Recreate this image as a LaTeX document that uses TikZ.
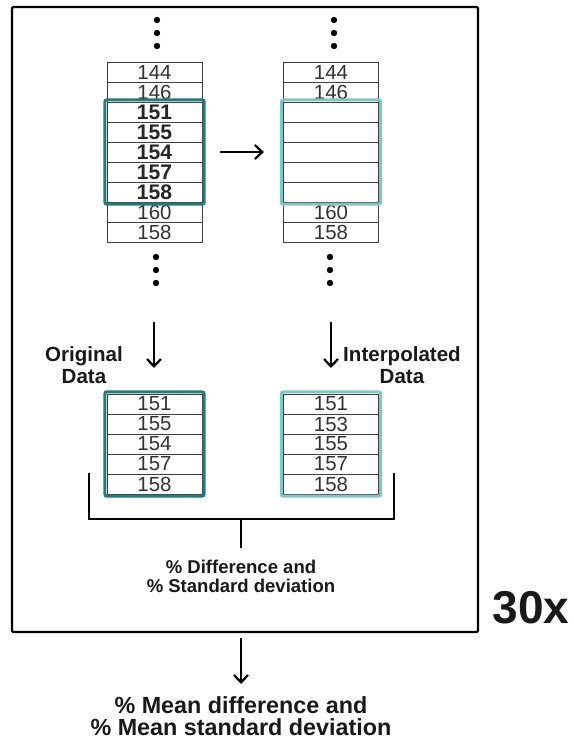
\documentclass[tikz,border=0pt]{standalone}
\usepackage{fontspec}
\setmainfont{Liberation Sans}
\usetikzlibrary{arrows.meta, positioning, fit}
\definecolor{darkteal}{RGB}{38,122,120}
\definecolor{lightteal}{RGB}{130,198,196}
\definecolor{numgray}{RGB}{50,50,50}

\begin{document}
\begin{tikzpicture}[
    x=0.75pt, y=-0.75pt,
    node distance=0pt,
    >={Straight Barb[length=5.5pt,width=10.5pt]},
    cell/.style={rectangle, draw=black!75, line width=0.6pt, outer sep=0pt, inner sep=0pt, minimum width=71.25pt, minimum height=15pt, text=numgray, font=\fontsize{15.3}{15}\selectfont},
    boldcell/.style={cell, text=black!85, font=\fontsize{15.8}{15}\selectfont\bfseries},
    frameorig/.style={rectangle, draw=darkteal, line width=2.3pt, rounded corners=1.5pt, inner sep=1.6pt},
    frameinterp/.style={frameorig, draw=lightteal},
    outerbox/.style={rectangle, draw, line width=1.7pt, rounded corners=1pt, minimum width=349.5pt, minimum height=468.75pt},
    vdot/.style={circle, fill=black, inner sep=0pt, minimum size=4.8pt},
    datalabel/.style={align=center, text=black!90, font=\fontsize{15.4}{16.5}\selectfont\bfseries},
    stat/.style={align=center, text=black!90, font=\fontsize{13.9}{14.3}\selectfont\bfseries},
    result/.style={align=center, text=black!90, font=\fontsize{17.5}{17}\selectfont\bfseries},
    arrow/.style={->, line width=1.7pt},
    bracket/.style={line width=1.8pt}
]
\useasboundingbox (0,0) rectangle (574,740);

\node[outerbox] (loop) at (245,319.5) {};
\node[text=black!90, font=\fontsize{34.5}{34.5}\selectfont\bfseries] (reps) at (531,608) {30x};

% original series
\node[vdot] (otd1) at (157,20) {};
\node[vdot] (otd2) at (157,33) {};
\node[vdot] (otd3) at (157,46) {};
\node[cell] (o1) at (154.5,72) {144};
\node[cell, below=of o1] (o2) {146};
\node[boldcell, below=of o2] (o3) {151};
\node[boldcell, below=of o3] (o4) {155};
\node[boldcell, below=of o4] (o5) {154};
\node[boldcell, below=of o5] (o6) {157};
\node[boldcell, below=of o6] (o7) {158};
\node[cell, below=of o7] (o8) {160};
\node[cell, below=of o8] (o9) {158};
\node[vdot] (obd1) at (156,257) {};
\node[vdot] (obd2) at (156,270) {};
\node[vdot] (obd3) at (156,283) {};
\node[frameorig, fit=(o3)(o7)] (ohi) {};

% series with gap
\node[vdot] (itd1) at (334,20) {};
\node[vdot] (itd2) at (334,33) {};
\node[vdot] (itd3) at (334,46) {};
\node[cell] (i1) at (331,72) {144};
\node[cell, below=of i1] (i2) {146};
\node[cell, below=of i2] (i3) {};
\node[cell, below=of i3] (i4) {};
\node[cell, below=of i4] (i5) {};
\node[cell, below=of i5] (i6) {};
\node[cell, below=of i6] (i7) {};
\node[cell, below=of i7] (i8) {160};
\node[cell, below=of i8] (i9) {158};
\node[vdot] (ibd1) at (330,257) {};
\node[vdot] (ibd2) at (330,270) {};
\node[vdot] (ibd3) at (330,283) {};
\node[frameinterp, fit=(i3)(i7)] (ihi) {};

\draw[arrow] ([xshift=10.5pt]ohi.east) -- ([xshift=-12pt]ihi.west);

% compared windows
\node[datalabel] (olabel) at (84,365) {Original\\Data};
\node[datalabel] (ilabel) at (402,365) {Interpolated\\Data};
\coordinate (oa) at (154,322);
\coordinate (ob) at (154,368);
\coordinate (ia) at (331,322);
\coordinate (ib) at (331,368);
\draw[arrow] (oa) -- (ob);
\draw[arrow] (ia) -- (ib);

\node[cell] (w1) at (154.5,404) {151};
\node[cell, below=of w1] (w2) {155};
\node[cell, below=of w2] (w3) {154};
\node[cell, below=of w3] (w4) {157};
\node[cell, below=of w4] (w5) {158};
\node[frameorig, fit=(w1)(w5)] (wbox) {};
\node[cell] (v1) at (331,404) {151};
\node[cell, below=of v1] (v2) {153};
\node[cell, below=of v2] (v3) {155};
\node[cell, below=of v3] (v4) {157};
\node[cell, below=of v4] (v5) {158};
\node[frameinterp, fit=(v1)(v5)] (vbox) {};

\coordinate (bl) at (89,473);
\coordinate (br) at (394,473);
\coordinate (bm) at (241,519);
\coordinate (stem) at (241,548);
\draw[bracket] (bl) |- (bm) -| (br);
\draw[bracket] (bm) -- (stem);
\node[stat] (stats) at (241,576) {\% Difference and\\\% Standard deviation};

% over all repetitions
\coordinate (fa) at (241,638);
\coordinate (fb) at (241,684);
\draw[arrow] (fa) -- (fb);
\node[result] (final) at (241,716) {\% Mean difference and\\\% Mean standard deviation};
\end{tikzpicture}
\end{document}
